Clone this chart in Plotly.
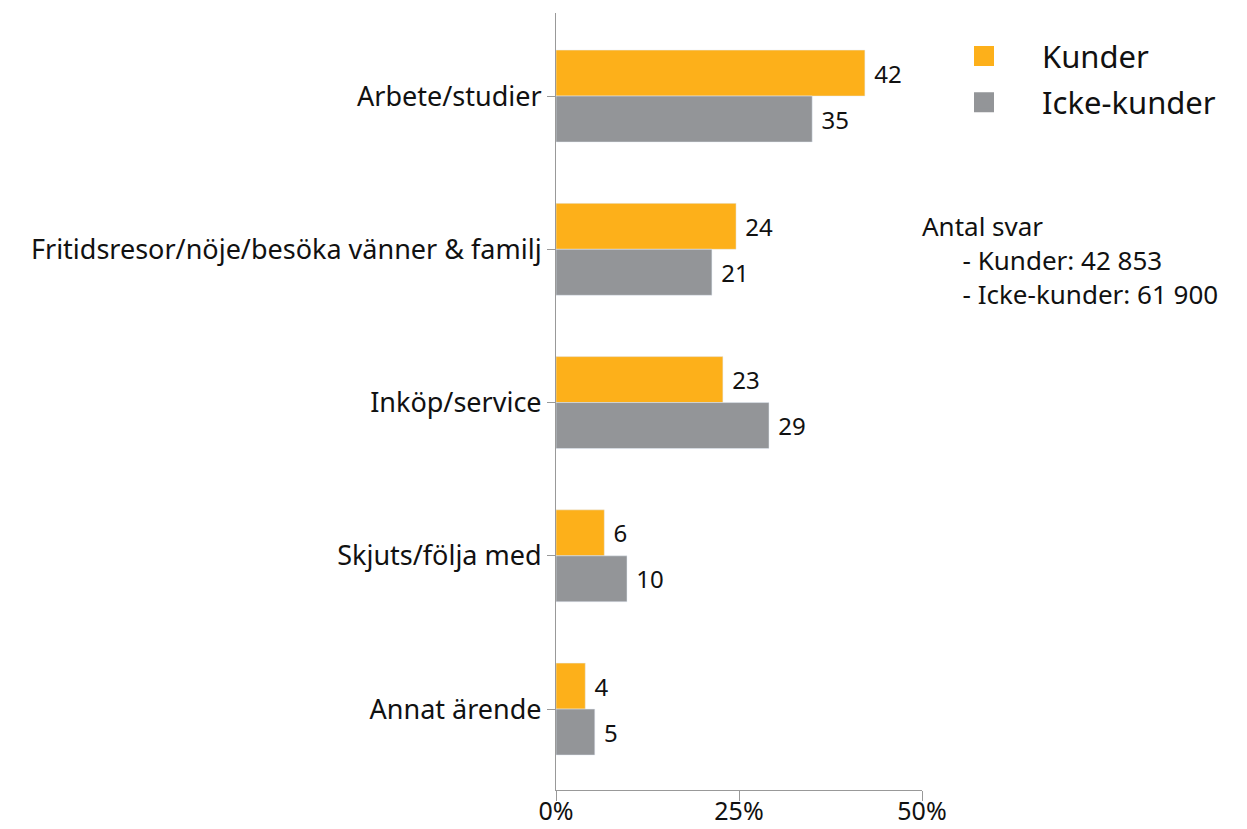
import plotly.graph_objects as go

categories = ["Arbete/studier", "Fritidsresor/nöje/besöka vänner & familj",
              "Inköp/service", "Skjuts/följa med", "Annat ärende"]
kunder = [42.2, 24.6, 22.8, 6.6, 4.0]
icke_kunder = [35.0, 21.3, 29.1, 9.7, 5.3]
kunder_labels = ["42", "24", "23", "6", "4"]
icke_labels = ["35", "21", "29", "10", "5"]
x_ticks = [0, 25, 50]
x_tick_labels = ["0%", "25%", "50%"]

ORANGE = "#FDB01A"
GRAY = "#939598"
FONT = "Noto Sans"
NB = "\u00a0"

fig = go.Figure()
fig.add_trace(go.Bar(y=categories, x=kunder, orientation="h", name="Kunder",
                     marker_color=ORANGE, text=[NB + t for t in kunder_labels],
                     textposition="outside", textfont=dict(size=24, color="#111"),
                     cliponaxis=False, showlegend=False))
fig.add_trace(go.Bar(y=categories, x=icke_kunder, orientation="h", name="Icke-kunder",
                     marker_color=GRAY, text=[NB + t for t in icke_labels],
                     textposition="outside", textfont=dict(size=24, color="#111"),
                     cliponaxis=False, showlegend=False))
# legend entries
fig.add_trace(go.Scatter(x=[None], y=[None], mode="markers", name="Kunder",
                         marker=dict(symbol="square", size=16, color=ORANGE,
                                     line=dict(color=ORANGE, width=4)),
                         legendgroup="a"))
fig.add_trace(go.Scatter(x=[None], y=[None], mode="markers", name="Icke-kunder",
                         marker=dict(symbol="square", size=16, color=GRAY,
                                     line=dict(color=GRAY, width=4)),
                         legendgroup="b"))

fig.update_layout(
    width=1247, height=829,
    margin=dict(l=548, r=333, t=5, b=47),
    plot_bgcolor="white", paper_bgcolor="white",
    font=dict(family=FONT, size=27, color="#111"),
    barmode="group", bargap=0.4, bargroupgap=0,
    legend=dict(x=1.011, y=0.979, xanchor="left", yanchor="top",
                font=dict(size=31), itemwidth=106, tracegroupgap=3,
                traceorder="grouped", bgcolor="rgba(0,0,0,0)"),
    annotations=[dict(
        x=0.995, y=0.751, xref="paper", yref="paper", xanchor="left", yanchor="top",
        align="left", showarrow=False, font=dict(size=26, color="#111"),
        text="Antal svar<br>" + NB * 6 + "- Kunder: 42 853<br>" + NB * 6 + "- Icke-kunder: 61 900",
    )],
)
fig.update_xaxes(range=[0, 50], tickvals=x_ticks, ticktext=x_tick_labels,
                 showgrid=False, zeroline=False, showline=True, linecolor="#999",
                 linewidth=1, ticks="outside", ticklen=10, tickcolor="#999",
                 tickfont=dict(size=25), automargin=False, ticklabelstandoff=-11)
fig.update_yaxes(categoryorder="array", categoryarray=categories,
                 range=[4.528, -0.542], showgrid=False, showline=True,
                 linecolor="#999", linewidth=1, ticks="outside", ticklen=8,
                 tickcolor="#999", tickfont=dict(size=27), automargin=False)

fig.write_html("out.html")
